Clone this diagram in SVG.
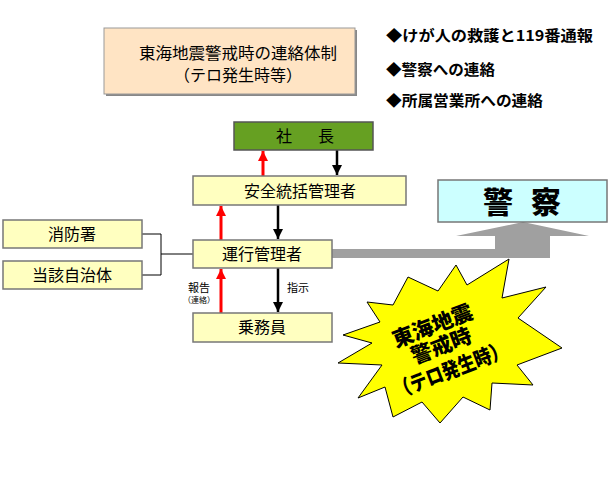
<svg xmlns="http://www.w3.org/2000/svg" width="610" height="499" viewBox="0 0 610 499">
<style>
text{font-family:"Noto Sans CJK JP","Noto Sans",sans-serif;fill:#000;}
.node{fill:#FFFFC0;stroke:#777;stroke-width:1.5;}
.lbl{font-size:16px;text-anchor:middle;}
.note{font-size:15px;font-weight:bold;}
.red{stroke:#FF0000;stroke-width:3;fill:none;}
.blk{stroke:#000;stroke-width:2.5;fill:none;}
.thin{stroke:#000;stroke-width:1;fill:none;}
.big{font-size:30px;font-weight:900;text-anchor:middle;}
</style>
<defs>
<marker id="ahR" markerUnits="userSpaceOnUse" markerWidth="10" markerHeight="12" refX="10" refY="5" orient="auto" viewBox="0 0 10 10">
<path d="M0,0 L10,5 L0,10 Z" fill="#FF0000"/>
</marker>
<marker id="ahK" markerUnits="userSpaceOnUse" markerWidth="10" markerHeight="12" refX="10" refY="5" orient="auto" viewBox="0 0 10 10">
<path d="M0,0 L10,5 L0,10 Z" fill="#000"/>
</marker>
</defs>
<rect width="610" height="499" fill="#fff"/>

<g id="title">
<rect x="106" y="30" width="251" height="66" fill="#888"/>
<rect x="104" y="28" width="251" height="66" fill="#FFE4C4" stroke="#999" stroke-width="1"/>
<text x="238" y="59" class="lbl" textLength="198" lengthAdjust="spacingAndGlyphs">東海地震警戒時の連絡体制</text>
<text x="238" y="81" class="lbl">（テロ発生時等）</text>
</g>

<g id="notes">
<text x="386" y="41" class="note" textLength="207" lengthAdjust="spacingAndGlyphs">◆けが人の救護と119番通報</text>
<text x="386" y="75" class="note" textLength="109" lengthAdjust="spacingAndGlyphs">◆警察への連絡</text>
<text x="386" y="106" class="note" textLength="157" lengthAdjust="spacingAndGlyphs">◆所属営業所への連絡</text>
</g>

<g id="connectors">
<path d="M332,249 H495 V236 H456 L523,222 L589,236 H550 V258 H332 Z" fill="#A0A0A0"/>
<line x1="263" y1="176" x2="263" y2="151" class="red" marker-end="url(#ahR)"/>
<line x1="337" y1="150" x2="337" y2="175" class="blk" marker-end="url(#ahK)"/>
<line x1="221" y1="240" x2="221" y2="206" class="red" marker-end="url(#ahR)"/>
<line x1="278" y1="205" x2="278" y2="239" class="blk" marker-end="url(#ahK)"/>
<line x1="221" y1="313" x2="221" y2="269" class="red" marker-end="url(#ahR)"/>
<line x1="278" y1="268" x2="278" y2="312" class="blk" marker-end="url(#ahK)"/>
<path d="M142,234 H161 V275 H142 M161,254 H193" class="thin"/>
<text x="199" y="292" style="font-size:11px;text-anchor:middle">報告</text>
<text x="199" y="303" style="font-size:8px;text-anchor:middle">（連絡）</text>
<text x="298" y="292" style="font-size:11px;text-anchor:middle">指示</text>
</g>

<g id="president">
<rect x="234" y="122" width="139" height="28" fill="#66A022" stroke="#555" stroke-width="1.5"/>
<text x="284" y="142" class="lbl">社</text>
<text x="326" y="142" class="lbl">長</text>
</g>
<g id="safety">
<rect x="193" y="176" width="213" height="29" class="node"/>
<text x="300" y="197" class="lbl">安全統括管理者</text>
</g>
<g id="operation">
<rect x="193" y="240" width="139" height="28" class="node"/>
<text x="262" y="260" class="lbl">運行管理者</text>
</g>
<g id="crew">
<rect x="193" y="313" width="139" height="29" class="node"/>
<text x="262" y="333" class="lbl">乗務員</text>
</g>
<g id="fire">
<rect x="3" y="220" width="139" height="28" class="node"/>
<text x="72" y="240" class="lbl">消防署</text>
</g>
<g id="local">
<rect x="3" y="261" width="139" height="28" class="node"/>
<text x="72" y="281" class="lbl">当該自治体</text>
</g>
<g id="police">
<rect x="438" y="180" width="169" height="42" fill="#CCFFFF" stroke="#777" stroke-width="1.5"/>
<text x="498" y="213" class="big">警</text>
<text x="546" y="213" class="big">察</text>
</g>

<g id="starburst">
<polygon points="408,277 438,291 456,265 467,285 509,259 502,298 546,287 518,318 562,348 517,365 533,385 492,383 490,410 463,397 440,423 422,402 393,417 385,387 358,398 382,365 338,363 372,343 343,335 380,322 367,302 393,305" fill="#FFFF00" stroke="#000" stroke-width="1"/>
<g transform="translate(440,348) rotate(-21)" style="font-size:21px;font-weight:900;text-anchor:middle">
<text x="1" y="-16">東海地震</text>
<text x="2" y="6">警戒時</text>
<text x="2" y="32" textLength="120" lengthAdjust="spacingAndGlyphs">（テロ発生時）</text>
</g>
</g>
</svg>
